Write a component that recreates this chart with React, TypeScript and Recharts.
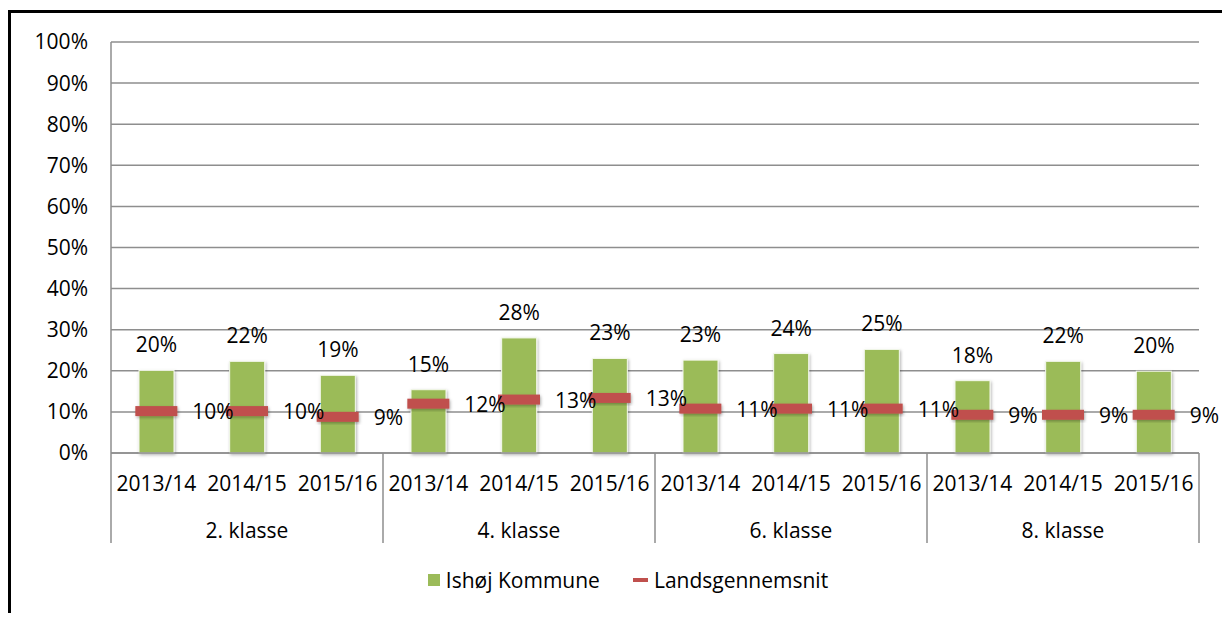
import { ComposedChart, Bar, Line, XAxis, YAxis, CartesianGrid, Legend, LabelList } from "recharts";

const GROUPS = ["2. klasse", "4. klasse", "6. klasse", "8. klasse"];
const YEARS = ["2013/14", "2014/15", "2015/16"];
// values in percent, one per group/year
const ISHOJ = [20.1, 22.3, 18.9, 15.4, 28.0, 23.0, 22.6, 24.2, 25.2, 17.6, 22.3, 19.9];
const LANDS = [10.2, 10.2, 8.8, 12.0, 13.0, 13.4, 10.8, 10.8, 10.8, 9.3, 9.3, 9.3];
const Y_TICKS = [0, 10, 20, 30, 40, 50, 60, 70, 80, 90, 100];

const data = GROUPS.flatMap((group, gi) =>
  YEARS.map((year, yi) => ({
    group,
    year,
    ishoj: ISHOJ[gi * 3 + yi],
    lands: LANDS[gi * 3 + yi],
  }))
);

const FONT = "'Open Sans', sans-serif";
const FS = 21;
const GREEN = "#9BBB59";
const RED = "#C0504D";
const GRID = "#8e8e8e";

const CHART_W = 1219;
const CHART_H = 600;
const MARGIN = { top: 29, right: 31, bottom: 13, left: 0 };
const Y_AXIS_W = 100;
const BAND = (CHART_W - MARGIN.left - MARGIN.right - Y_AXIS_W) / data.length;

function CategoryTick(props: any) {
  const { x, y, payload } = props;
  const index = props.index ?? payload.index;
  const row = data[index];
  const half = BAND / 2;
  return (
    <g>
      <text x={x} y={y + 30} textAnchor="middle" dominantBaseline="central" fill="#000" fontSize={FS} fontFamily={FONT}>
        {payload.value}
      </text>
      {index % 3 === 1 && (
        <text x={x} y={y + 77} textAnchor="middle" dominantBaseline="central" fill="#000" fontSize={FS} fontFamily={FONT}>
          {row.group}
        </text>
      )}
      {index % 3 === 0 && <line x1={x - half} x2={x - half} y1={y} y2={y + 90} stroke={GRID} strokeWidth={1.5} />}
      {index === data.length - 1 && <line x1={x + half} x2={x + half} y1={y} y2={y + 90} stroke={GRID} strokeWidth={1.5} />}
    </g>
  );
}

function ShadowBar(props: any) {
  const { x, y, width, height } = props;
  if (!height) return null;
  return <rect x={x} y={y} width={width} height={height} fill={GREEN} stroke="#f4f8ec" strokeWidth={1} filter="url(#soft)" />;
}

function DashDot(props: any) {
  const { cx, cy } = props;
  if (cx == null || cy == null) return null;
  return <rect x={cx - 21} y={cy - 5} width={42} height={10} fill={RED} filter="url(#soft)" />;
}

function BarValue(props: any) {
  const { x, y, width, value } = props;
  return (
    <text x={x + width / 2} y={y - 26} textAnchor="middle" dominantBaseline="central" fill="#000" fontSize={FS} fontFamily={FONT}>
      {Math.round(value)}%
    </text>
  );
}

function LineValue(props: any) {
  const { x, y, value } = props;
  return (
    <text x={x + 36} y={y} textAnchor="start" dominantBaseline="central" fill="#000" fontSize={FS} fontFamily={FONT}>
      {Math.round(value)}%
    </text>
  );
}

function LegendContent(props: any) {
  const items = props.payload || [];
  return (
    <div style={{ display: "flex", justifyContent: "center", alignItems: "center", height: 40, paddingLeft: 46, fontFamily: FONT, fontSize: FS, color: "#000" }}>
      {items.map((item: any, i: number) => (
        <div key={item.value} style={{ display: "flex", alignItems: "center", marginLeft: i > 0 ? 33 : 0 }}>
          {item.dataKey === "ishoj" ? (
            <span style={{ width: 12, height: 12, background: GREEN, marginRight: 6 }} />
          ) : (
            <span style={{ width: 15, height: 4, background: RED, marginRight: 6 }} />
          )}
          <span>{item.value}</span>
        </div>
      ))}
    </div>
  );
}

export default function App() {
  return (
    <div style={{ position: "relative", paddingTop: 5, paddingLeft: 3 }}>
      <div style={{ position: "absolute", left: 0, top: 2, width: 1222, height: 612, borderLeft: "3px solid #000", borderTop: "3px solid #000", boxSizing: "border-box" }} />
      <div style={{ position: "relative", width: CHART_W, height: CHART_H, fontFamily: FONT }}>
        <ComposedChart width={CHART_W} height={CHART_H} data={data} margin={MARGIN}>
          <defs>
            <filter id="soft" x="-30%" y="-30%" width="160%" height="160%">
              <feDropShadow dx="1" dy="1.5" stdDeviation="1.5" floodColor="#000" floodOpacity="0.3" />
            </filter>
          </defs>
          <CartesianGrid vertical={false} stroke={GRID} strokeWidth={1.5} />
          <XAxis
            dataKey="year"
            interval={0}
            tickLine={false}
            tickSize={0}
            tickMargin={0}
            height={107}
            axisLine={{ stroke: GRID, strokeWidth: 1.5 }}
            tick={<CategoryTick />}
          />
          <YAxis
            width={Y_AXIS_W}
            domain={[0, 100]}
            ticks={Y_TICKS}
            interval={0}
            tickLine={false}
            tickSize={0}
            tickMargin={23}
            tickFormatter={(v) => `${v}%`}
            axisLine={{ stroke: GRID, strokeWidth: 1.5 }}
            tick={{ fill: "#000", fontSize: FS, fontFamily: FONT }}
          />
          <Legend verticalAlign="bottom" content={<LegendContent />} />
          <Bar dataKey="ishoj" name="Ishøj Kommune" fill={GREEN} barSize={35} shape={<ShadowBar />} isAnimationActive={false}>
            <LabelList dataKey="ishoj" content={<BarValue />} />
          </Bar>
          <Line
            dataKey="lands"
            name="Landsgennemsnit"
            stroke={RED}
            strokeOpacity={0}
            dot={<DashDot />}
            activeDot={false}
            isAnimationActive={false}
          >
            <LabelList dataKey="lands" content={<LineValue />} />
          </Line>
        </ComposedChart>
      </div>
    </div>
  );
}
